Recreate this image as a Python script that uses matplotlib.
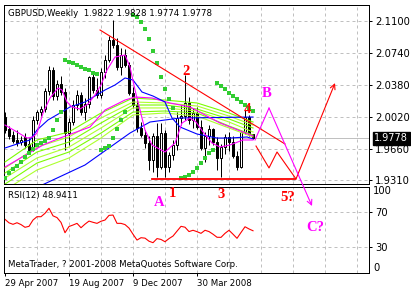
import numpy as np
import matplotlib.pyplot as plt
from matplotlib.transforms import blended_transform_factory

# DATA -------------------------------------------------------------
# weekly GBPUSD bars, index 0 = week of 29 Apr 2007
opens = [2.0017, 1.9883, 1.9816, 1.9760, 1.9737, 1.9793, 1.9715, 1.9660, 1.9984, 2.0074,
         2.0108, 2.0310, 2.0546, 2.0254, 2.0389, 2.0299, 1.9838, 1.9962, 2.0153, 2.0265,
         2.0074, 2.0164, 2.0468, 2.0322, 2.0266, 2.0524, 2.0659, 2.0884, 2.0827, 2.0580,
         2.0715, 2.0600, 2.0288, 2.0153, 1.9895, 1.9816, 1.9726, 1.9535, 1.9800, 1.9456,
         1.9838, 1.9456, 1.9591, 1.9704, 2.0007, 2.0030, 2.0176, 1.9985, 2.0063, 1.9910,
         1.9670, 1.9800, 1.9880, 1.9740, 1.9560, 1.9680, 1.9794, 1.9740, 1.9580, 1.9456,
         1.9850, 2.0018, 1.9822]
highs = [2.0074, 1.9917, 1.9861, 1.9872, 1.9804, 1.9838, 1.9782, 2.0029, 2.0096, 2.0141,
         2.0344, 2.0591, 2.0580, 2.0434, 2.0479, 2.0344, 2.0007, 2.0209, 2.0321, 2.0299,
         2.0231, 2.0479, 2.0524, 2.0456, 2.0569, 2.0715, 2.0928, 2.1108, 2.0906, 2.0794,
         2.0780, 2.0640, 2.0350, 2.0210, 1.9960, 1.9870, 1.9800, 1.9840, 1.9951, 1.9951,
         1.9870, 1.9620, 1.9760, 2.0074, 2.0150, 2.0490, 2.0240, 2.0120, 2.0130, 1.9990,
         1.9850, 1.9930, 1.9900, 1.9790, 1.9720, 1.9830, 1.9850, 1.9800, 1.9640, 1.9860,
         2.0097, 2.0040, 1.9828]
lows = [1.9838, 1.9771, 1.9726, 1.9692, 1.9703, 1.9669, 1.9613, 1.9640, 1.9939, 2.0029,
        2.0074, 2.0265, 2.0209, 2.0209, 2.0265, 1.9647, 1.9703, 1.9928, 2.0097, 2.0040,
        1.9984, 2.0119, 2.0288, 2.0232, 2.0232, 2.0456, 2.0636, 2.0794, 2.0546, 2.0490,
        2.0580, 2.0266, 2.0120, 1.9850, 1.9794, 1.9670, 1.9423, 1.9400, 1.9344, 1.9430,
        1.9344, 1.9400, 1.9530, 1.9650, 1.9930, 1.9985, 1.9940, 1.9900, 1.9880, 1.9648,
        1.9513, 1.9700, 1.9700, 1.9423, 1.9344, 1.9600, 1.9640, 1.9560, 1.9423, 1.9440,
        1.9830, 1.9800, 1.9774]
closes = [1.9872, 1.9804, 1.9748, 1.9726, 1.9760, 1.9703, 1.9647, 1.9984, 2.0074, 2.0108,
          2.0310, 2.0546, 2.0254, 2.0389, 2.0299, 1.9838, 1.9962, 2.0153, 2.0265, 2.0074,
          2.0164, 2.0468, 2.0322, 2.0266, 2.0524, 2.0659, 2.0884, 2.0827, 2.0580, 2.0715,
          2.0600, 2.0288, 2.0153, 1.9895, 1.9816, 1.9726, 1.9535, 1.9800, 1.9456, 1.9838,
          1.9456, 1.9591, 1.9704, 2.0007, 2.0030, 2.0176, 1.9985, 2.0063, 1.9910, 1.9670,
          1.9800, 1.9880, 1.9740, 1.9560, 1.9680, 1.9794, 1.9740, 1.9580, 1.9456, 1.9850,
          2.0018, 1.9822, 1.9778]

rsi = [62.0, 58.0, 56.3, 58.1, 56.0, 52.9, 54.0, 61.2, 65.0, 65.0,
       68.9, 74.6, 66.0, 64.0, 58.5, 46.7, 53.8, 55.5, 57.4, 52.4,
       56.5, 60.0, 58.6, 57.4, 59.8, 61.2, 66.5, 66.9, 57.4, 57.4,
       56.0, 52.0, 45.0, 38.3, 41.0, 40.5, 37.0, 35.3, 40.0, 39.0,
       36.4, 40.0, 42.9, 48.5, 54.0, 53.0, 48.0, 49.5, 47.9, 46.0,
       49.5, 48.0, 45.0, 41.5, 41.4, 46.0, 49.5, 45.0, 40.3, 47.0,
       53.5, 51.0, 48.9411]

# indicator lines (bar position, price)
ma_fast_bar = [0, 3, 5.5, 7, 8, 9.5, 11.25, 13.25, 14.25, 15.5, 16.75, 18.75, 20.75, 22.5,
               24, 25.5, 27.5, 30, 31.25, 32.5, 33.75, 35, 36.75, 40, 42.5, 44.25, 46.25,
               47.75, 49.5, 51.75, 53.75, 56.25, 59.5, 62]
ma_fast = [1.9928, 1.9850, 1.9782, 1.9794, 1.9838, 2.0063, 2.0232, 2.0344, 2.0322, 2.0187,
           2.0131, 2.0108, 2.0164, 2.0266, 2.0378, 2.0546, 2.0692, 2.0715, 2.0580, 2.0322,
           2.0097, 1.9872, 1.9704, 1.9625, 1.9726, 1.9951, 2.0007, 1.9962, 1.9850, 1.9726,
           1.9681, 1.9704, 1.9760, 1.9760]

ma_mid_bar = [0, 3.75, 6.25, 8, 10.75, 13.75, 16.25, 20, 25, 27.5, 30, 32, 34.25, 37, 40,
              41.75, 43.75, 48, 53, 56.25, 60.5, 62]
ma_mid = [1.9670, 1.9726, 1.9760, 1.9872, 1.9985, 2.0063, 2.0131, 2.0187, 2.0322, 2.0378,
          2.0457, 2.0434, 2.0299, 2.0254, 2.0187, 2.0007, 1.9906, 1.9827, 1.9782, 1.9782,
          1.9794, 1.9771]

ma_slow_bar = [0, 9.5, 13.75, 21.25, 25, 30, 32.5, 36.75, 41.25, 46.25, 53.75, 62]
ma_slow = [1.9456, 1.9704, 1.9782, 1.9906, 2.0097, 2.0209, 2.0243, 2.0232, 2.0176, 2.0131,
           1.9951, 1.9805]

ma_long_bar = [8.75, 20, 31.25, 36.25, 43.75, 62]
ma_long = [1.9243, 1.9479, 1.9838, 1.9962, 2.0007, 2.0018]

ribbon_bar = [0, 8, 16, 24, 32, 40, 48, 56, 62]
ribbon_1 = [1.9513, 1.9760, 1.9850, 2.0063, 2.0232, 2.0209, 2.0176, 2.0063, 1.9962]
ribbon_2 = [1.9445, 1.9681, 1.9794, 2.0007, 2.0187, 2.0176, 2.0142, 2.0029, 1.9928]
ribbon_3 = [1.9389, 1.9625, 1.9737, 1.9951, 2.0153, 2.0153, 2.0108, 1.9996, 1.9895]
ribbon_4 = [1.9333, 1.9558, 1.9681, 1.9895, 2.0120, 2.0120, 2.0086, 1.9962, 1.9850]
ribbon_5 = [1.9265, 1.9501, 1.9625, 1.9838, 2.0074, 2.0086, 2.0063, 1.9917, 1.9816]
ribbon_6 = [1.9198, 1.9423, 1.9558, 1.9782, 2.0041, 2.0063, 2.0029, 1.9895, 1.9794]

sar_bar = list(range(0, 15)) + list(range(15, 24)) + list(range(24, 31)) + \
    list(range(32, 43)) + list(range(44, 53)) + list(range(53, 63))
sar = [1.9333, 1.9389, 1.9434, 1.9468, 1.9513, 1.9569, 1.9614, 1.9659, 1.9704, 1.9726,
       1.9749, 1.9782, 1.9872, 1.9985, 2.0074,
       2.0659, 2.0636, 2.0625, 2.0603, 2.0580, 2.0558, 2.0546, 2.0513, 2.0501,
       1.9648, 1.9670, 1.9692, 1.9782, 1.9883, 1.9985, 2.0074,
       2.1164, 2.1142, 2.1086, 2.1007, 2.0895, 2.0760, 2.0625, 2.0468, 2.0333, 2.0221, 2.0119,
       1.9333, 1.9344, 1.9367, 1.9400, 1.9445, 1.9501, 1.9558, 1.9614, 1.9648,
       2.0400, 2.0367, 2.0333, 2.0288, 2.0254, 2.0221, 2.0187, 2.0153, 2.0119, 2.0086]

# drawn objects
trend_bar = [23.75, 70]
trend = [2.0996, 1.9715]
support_bar = [36.75, 72.5]
support = [1.9320, 1.9320]
wave5_bar = [62.75, 66, 68, 72.75, 82.5]
wave5 = [1.9692, 1.9446, 1.9625, 1.9322, 2.0400]
abc_bar = [62.5, 66, 76.75]
abc = [1.9760, 2.0119, 1.9018]

label_text = ['1', 'A', '2', '3', '4', '5?', 'B', 'C?']
label_bar = [41.75, 38.5, 45.25, 54.1, 60.5, 70.75, 65.5, 77.5]
label_price = [1.9164, 1.9063, 2.0535, 1.9142, 2.0097, 1.9119, 2.0277, 1.8782]
label_color = ['#FF0000', '#FF00FF', '#FF0000', '#FF0000', '#FF0000', '#FF0000',
               '#FF00FF', '#FF00FF']

price_ticks = [2.1100, 2.0740, 2.0380, 2.0020, 1.9660, 1.9310]
rsi_ticks = [70, 30]
grid_bars = list(range(8, 91, 8))
date_ticks = [0, 16, 32, 48]
date_labels = ['29 Apr 2007', '19 Aug 2007', '9 Dec 2007', '30 Mar 2008']

# PLOTTING --------------------------------------------------------
W, H = 411, 294
fig = plt.figure(figsize=(W / 100, H / 100), dpi=100)
left, right = 3.5, 369.3
ax = fig.add_axes([left / W, 1 - 184.3 / H, (right - left) / W, (184.3 - 5) / H])
ax2 = fig.add_axes([left / W, 1 - 272.7 / H, (right - left) / W, (272.7 - 186.7) / H])
ax.set_zorder(2)
ax2.set_zorder(1)

px = 0.72
for a in (ax, ax2):
    a.set_xlim(-0.375, 91.07)
    for s in a.spines.values():
        s.set_linewidth(px)
        s.set_color('black')
ax.set_ylim(1.9262, 2.1277)
ax2.set_ylim(1.0, 99.3)

grid_kw = dict(color='#C0C0C0', lw=px, ls=(0, (3, 3)), zorder=0)
for b in grid_bars:
    ax.axvline(b, **grid_kw)
    ax2.axvline(b, **grid_kw)
for p in price_ticks:
    ax.axhline(p, **grid_kw)
for r in rsi_ticks:
    ax2.axhline(r, **grid_kw)

# bid line
ax.axhline(closes[-1], color='#C0C0C0', lw=px, zorder=1)

# candles
o, h, l, c = map(np.array, (opens, highs, lows, closes))
idx = np.arange(len(c))
ax.vlines(idx, l, h, color='black', lw=px, zorder=2)
ax.bar(idx, np.maximum(np.abs(c - o), 0.0004), bottom=np.minimum(o, c), width=0.62,
       color=np.where(c >= o, 'white', 'black'), edgecolor='black', lw=px, zorder=2.5)

# indicators
greens = ['#7CFC00', '#ADFF2F', '#7CFC00', '#ADFF2F', '#7CFC00', '#ADFF2F']
for col, line in zip(greens, [ribbon_1, ribbon_2, ribbon_3, ribbon_4, ribbon_5, ribbon_6]):
    ax.plot(ribbon_bar, line, color=col, lw=0.8, zorder=3)
ax.plot(ma_long_bar, ma_long, color='#0000FF', lw=0.8, zorder=3)
ax.plot(ma_slow_bar, ma_slow, color='#FF00FF', lw=0.8, zorder=3)
ax.plot(ma_mid_bar, ma_mid, color='#0000FF', lw=0.8, zorder=3)
ax.plot(ma_fast_bar, ma_fast, color='#FF00FF', lw=0.8, zorder=3)
ax.plot(sar_bar, sar, ls='', marker='s', ms=2.8, mew=0, color='#32CD32', zorder=4)

# trend lines and wave forecasts
ax.plot(trend_bar, trend, color='#FF0000', lw=0.8, zorder=4)
ax.plot(support_bar, support, color='#FF0000', lw=1.3, zorder=4, clip_on=False)
ax.plot(wave5_bar[:-1], wave5[:-1], color='#FF0000', lw=0.8, zorder=4)
ax.annotate('', xy=(wave5_bar[-1], wave5[-1]), xytext=(wave5_bar[-2], wave5[-2]),
            arrowprops=dict(arrowstyle='->', color='#FF0000', lw=0.8, shrinkA=0,
                            shrinkB=0, mutation_scale=9), zorder=4)
ax.plot(abc_bar[:-1], abc[:-1], color='#FF00FF', lw=0.8, zorder=4, clip_on=False)
ax.annotate('', xy=(abc_bar[-1], abc[-1]), xytext=(abc_bar[-2], abc[-2]),
            arrowprops=dict(arrowstyle='->', color='#FF00FF', lw=0.8, shrinkA=0,
                            shrinkB=0, mutation_scale=9), annotation_clip=False, zorder=4)

for t, b, p, col in zip(label_text, label_bar, label_price, label_color):
    ax.text(b, p, t, color=col, family='Liberation Serif', weight='bold', fontsize=10.5,
            ha='center', va='center', zorder=5, clip_on=False)

# axes ticks
ax.set_xticks([])
ax.yaxis.tick_right()
ax.set_yticks(price_ticks)
ax.set_yticklabels([f'{p:.4f}' for p in price_ticks])
ax.tick_params(axis='y', direction='out', length=2.2, width=px, labelsize=7.2, pad=1.8)

ax2.yaxis.tick_right()
ax2.set_yticks(rsi_ticks)
ax2.set_yticklabels([str(r) for r in rsi_ticks])
ax2.tick_params(axis='y', direction='out', length=2.2, width=px, labelsize=7.2, pad=1.8)
ax2.set_xticks(date_ticks)
ax2.set_xticklabels(date_labels, ha='left')
ax2.tick_params(axis='x', direction='out', length=2.2, width=px, labelsize=6.2, pad=2)
tr2 = blended_transform_factory(ax2.transAxes, ax2.transData)
ax2.text(1.0 + 4 / 366, 100, '100', transform=tr2, fontsize=7.2, va='top', ha='left')
ax2.text(1.0 + 4 / 366, 0.5, '0', transform=tr2, fontsize=7.2, va='bottom', ha='left')

# current price box
tr = blended_transform_factory(ax.transAxes, ax.transData)
ax.text(1.0 + 5 / 366, closes[-1], f'{closes[-1]:.4f}', transform=tr, color='white',
        fontsize=7.0, va='center', ha='left',
        bbox=dict(facecolor='black', edgecolor='black', pad=1.0))

# rsi line
ax2.plot(idx, rsi, color='#FF0000', lw=0.8)

# captions
ax.text(0.0125, 0.95, 'GBPUSD,Weekly  %.4f %.4f %.4f %.4f' % (opens[-1], highs[-1], lows[-1], closes[-1]),
        transform=ax.transAxes, fontsize=6.2, va='center', ha='left', zorder=6)
ax2.text(0.0125, 0.892, 'RSI(12) %.4f' % rsi[-1], transform=ax2.transAxes, fontsize=6.2,
         va='center', ha='left')
ax2.text(0.0125, 0.101, 'MetaTrader, ? 2001-2008 MetaQuotes Software Corp.',
         transform=ax2.transAxes, fontsize=6.2, va='center', ha='left')

fig.savefig('out.png', dpi=100)
